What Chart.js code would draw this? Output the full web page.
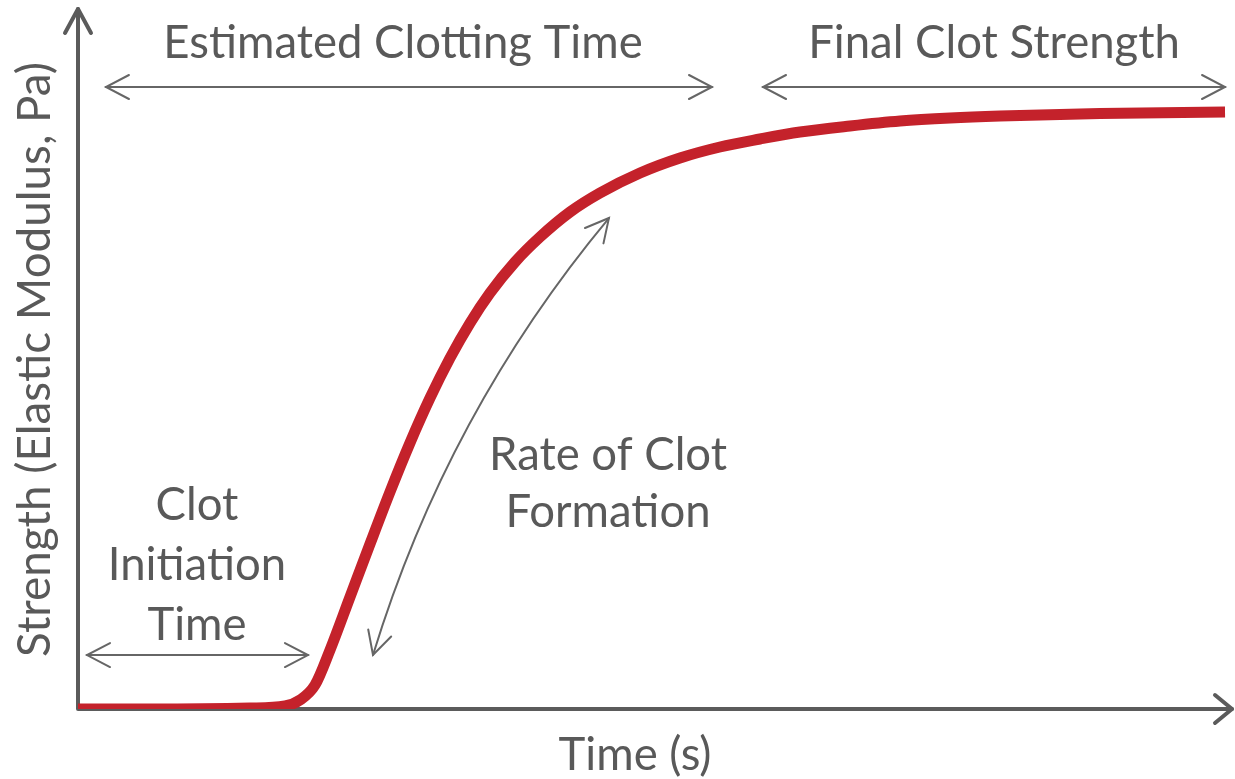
<!DOCTYPE html>
<html>
<head>
<meta charset="utf-8">
<script src="https://cdn.jsdelivr.net/npm/chart.js@4.4.1/dist/chart.umd.min.js"></script>
<style>
  html, body { margin: 0; padding: 0; background: #ffffff; }
  #wrap { width: 1235px; height: 779px; position: relative; }
</style>
</head>
<body>
<div id="wrap"><canvas id="c"></canvas></div>
<script>
// ---- Data (arbitrary units) ----
const timeValues = [0, 6.23, 14.89, 17.92, 19.22, 20.52, 21.82, 23.55, 25.28, 27.01, 28.74, 30.48, 32.21, 33.94, 35.67, 37.84, 40.0, 42.6, 45.19, 48.66, 52.12, 55.58, 59.05, 62.51, 66.84, 71.17, 75.5, 79.83, 88.48, 99.31];
const strengthValues = [0, 0, 0.14, 0.43, 1.28, 3.42, 8.42, 15.98, 23.54, 30.96, 37.95, 44.37, 50.07, 55.06, 59.34, 63.77, 67.33, 70.9, 73.61, 76.46, 78.6, 80.17, 81.31, 82.31, 83.17, 83.88, 84.31, 84.59, 84.95, 85.16];

const xAxisTitle = 'Time (s)';
const yAxisTitle = 'Strength (Elastic Modulus, Pa)';

// annotation labels (lines) anchored in data units
const labelTexts = [
  ['Estimated Clotting Time'],
  ['Final Clot Strength'],
  ['Clot', 'Initiation', 'Time'],
  ['Rate of Clot', 'Formation']
];
const labelX = [28.14, 79.31, 10.30, 45.89];
const labelY = [[92.87], [92.87], [26.96, 18.40, 9.84], [34.09, 25.96]];

// double-headed annotation arrows (data units)
const arrowStarts = [[2.42, 88.73], [59.31, 88.73], [0.78, 7.70], [25.54, 7.70]];
const arrowEnds   = [[54.89, 88.73], [99.31, 88.73], [19.91, 7.70], [45.97, 70.04]];
const arrowBend   = [0, 0, 0, 50];

const TEXT_COLOR = '#595959';
const AXIS_COLOR = '#5b5b5b';
const ARROW_COLOR = '#666666';
const FONT = '"Lato", "Open Sans", sans-serif';
const FONT_SIZE = 45.5;
// y title occupies this span along the y axis (data units)
const Y_TITLE_RANGE = [7.42, 92.3];

function chevron(ctx, tx, ty, dx, dy, len, half) {
  const L = Math.hypot(dx, dy); dx /= L; dy /= L;
  const px = -dy, py = dx;
  ctx.beginPath();
  ctx.moveTo(tx - dx * len + px * half, ty - dy * len + py * half);
  ctx.lineTo(tx, ty);
  ctx.lineTo(tx - dx * len - px * half, ty - dy * len - py * half);
  ctx.stroke();
}

const axesPlugin = {
  id: 'axesArrows',
  beforeDatasetsDraw(chart) {
    const ctx = chart.ctx, xs = chart.scales.x, ys = chart.scales.y;
    const x0 = xs.getPixelForValue(xs.min), y0 = ys.getPixelForValue(ys.min);
    const x1 = xs.getPixelForValue(xs.max), y1 = ys.getPixelForValue(ys.max);
    ctx.save();
    ctx.strokeStyle = AXIS_COLOR;
    ctx.lineWidth = 4;
    ctx.lineCap = 'round';
    ctx.lineJoin = 'round';
    ctx.beginPath();
    ctx.moveTo(x0, y0); ctx.lineTo(x0, y1 + 1);
    ctx.moveTo(x0, y0); ctx.lineTo(x1 - 1, y0);
    ctx.stroke();
    chevron(ctx, x0, y1 + 1, 0, -1, 24, 13);
    chevron(ctx, x1 - 1, y0, 1, 0, 17, 14);
    ctx.restore();
  },
  afterDatasetsDraw(chart) {
    const ctx = chart.ctx, xs = chart.scales.x, ys = chart.scales.y;
    ctx.save();
    ctx.strokeStyle = ARROW_COLOR;
    ctx.lineWidth = 2;
    ctx.lineCap = 'round';
    for (let i = 0; i < arrowStarts.length; i++) {
      const ax = xs.getPixelForValue(arrowStarts[i][0]), ay = ys.getPixelForValue(arrowStarts[i][1]);
      const bx = xs.getPixelForValue(arrowEnds[i][0]), by = ys.getPixelForValue(arrowEnds[i][1]);
      const dx = bx - ax, dy = by - ay, L = Math.hypot(dx, dy);
      let nx = dy / L, ny = -dx / L;
      if (nx > 0) { nx = -nx; ny = -ny; }
      const cx = (ax + bx) / 2 + nx * arrowBend[i], cy = (ay + by) / 2 + ny * arrowBend[i];
      ctx.beginPath();
      ctx.moveTo(ax, ay);
      ctx.quadraticCurveTo(cx, cy, bx, by);
      ctx.stroke();
      chevron(ctx, ax, ay, ax - cx, ay - cy, 23, 12);
      chevron(ctx, bx, by, bx - cx, by - cy, 23, 12);
    }
    ctx.fillStyle = TEXT_COLOR;
    ctx.font = FONT_SIZE + 'px ' + FONT;
    ctx.textAlign = 'center';
    ctx.textBaseline = 'alphabetic';
    for (let i = 0; i < labelTexts.length; i++) {
      const px = xs.getPixelForValue(labelX[i]);
      labelTexts[i].forEach((t, j) => ctx.fillText(t, px, ys.getPixelForValue(labelY[i][j])));
    }
    ctx.fillText(xAxisTitle, xs.getPixelForValue(48.23), ys.getPixelForValue(-8.70));
    // y title fitted to its span
    const yb = ys.getPixelForValue(Y_TITLE_RANGE[0]), yt = ys.getPixelForValue(Y_TITLE_RANGE[1]);
    const w = ctx.measureText(yAxisTitle).width;
    const size = FONT_SIZE * (yb - yt) / w;
    ctx.save();
    ctx.font = size.toFixed(2) + 'px ' + FONT;
    ctx.translate(xs.getPixelForValue(-2.42), (yb + yt) / 2);
    ctx.rotate(-Math.PI / 2);
    ctx.fillText(yAxisTitle, 0, 0);
    ctx.restore();
    ctx.restore();
  }
};

const points = timeValues.map((t, i) => ({ x: t, y: strengthValues[i] }));

new Chart(document.getElementById('c'), {
  type: 'line',
  data: {
    datasets: [{
      data: points,
      borderColor: '#c4222b',
      borderWidth: 11,
      borderCapStyle: 'butt',
      pointRadius: 0,
      fill: false,
      cubicInterpolationMode: 'monotone'
    }]
  },
  options: {
    responsive: true,
    maintainAspectRatio: false,
    animation: false,
    layout: { padding: { left: 78, right: 2, top: 8, bottom: 70 } },
    plugins: { legend: { display: false }, tooltip: { enabled: false }, title: { display: false } },
    scales: {
      x: { type: 'linear', min: 0, max: 100, display: false },
      y: { type: 'linear', min: 0, max: 100, display: false }
    }
  },
  plugins: [axesPlugin]
});
</script>
</body>
</html>
